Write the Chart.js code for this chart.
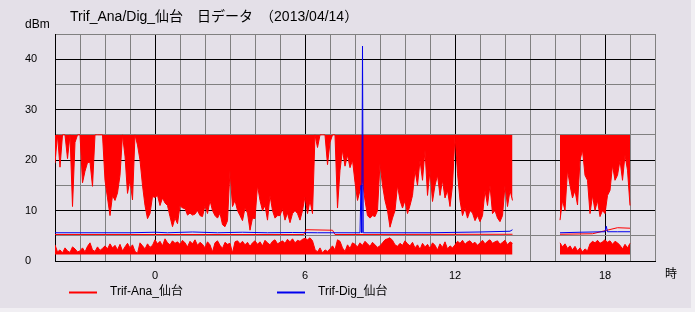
<!DOCTYPE html>
<html><head><meta charset="utf-8">
<script src="https://cdn.jsdelivr.net/npm/chart.js@4"></script>
<style>html,body{margin:0;padding:0;background:#e4e0e8;overflow:hidden}canvas{display:block}</style>
</head><body>
<canvas id="c" width="695" height="312"></canvas>
<script>
// ---- text ----
const chartTitle = 'Trif_Ana/Dig_仙台　日データ　（2013/04/14）';
const yUnit = 'dBm';
const xUnit = '時';
const seriesNames = ['Trif-Ana_仙台', 'Trif-Dig_仙台'];
const xTickLabels = [0, 6, 12, 18];
const yTickLabels = [0, 10, 20, 30, 40];

// ---- Trif-Ana samples (hours, every 0.1 h) ----
const anaStep = 0.1;
const anaStart1 = -4.0;   // first block -4.0 .. 14.3
const anaStart2 = 16.2;   // second block 16.2 .. 19.0
const anaCeiling = 25;    // saturation level of the upper band
const anaFloor = 1.3;     // base of the lower band
// upper band: lowest value reached in each sample
const anaHigh1 = [
  19.4, 25, 18.6, 25, 25, 20.3, 25, 10.8, 23.5, 25,
  25, 15.5, 17.8, 19.5, 19.6, 14.8, 25, 25, 25, 25,
  16, 12.5, 9, 13, 12, 13.5, 17, 25, 20.8, 13.4,
  16.1, 12.1, 25, 23, 20, 15, 11, 8.4, 9.4, 12.8,
  12.6, 13, 11, 12.5, 11.5, 11, 8.8, 6.8, 8.5, 7.4,
  11, 10.5, 10.4, 9.1, 9.5, 9.1, 9.3, 10, 9, 8.8,
  11, 9.4, 12, 10, 9, 8.5, 9.5, 7.2, 6.8, 8,
  18, 10.8, 12, 10, 9, 8, 10.5, 9.5, 6.1, 8.5,
  8.4, 15, 12, 10, 11, 8.1, 13, 10, 8.5, 9,
  9, 10.4, 8.1, 9.5, 7.6, 9.4, 10, 9.4, 8.1, 10,
  12.8, 9.4, 12, 9.4, 25, 22.5, 25, 25, 25, 19.1,
  23.5, 25, 25, 10.5, 18, 22, 18.8, 21, 18.5, 20,
  15.6, 12, 14, 16, 12, 9, 8.5, 9, 8.8, 10,
  19.4, 15, 12, 10, 6.7, 8.5, 10, 15, 12, 10.5,
  12, 9.4, 11, 13, 18, 15, 20, 16, 22, 13,
  18, 11.8, 15, 17, 13, 16, 12.5, 14, 10.8, 15,
  25, 17.4, 12, 9, 10.5, 8.5, 10, 9.5, 8, 9,
  7.8, 9, 14, 11, 15, 9.4, 10, 8.5, 7.8, 9,
  15, 10.8, 14, 12
];
const anaHigh2 = [
  8.1, 12, 10, 18, 15, 12.5, 14, 11.1, 20, 22,
  17, 16, 9.4, 13, 10, 12, 8.8, 10, 9.4, 13,
  14, 19, 16, 17, 20, 16, 21, 18, 11
];
// lower band: highest value reached in each sample
const anaLow1 = [
  3.2, 1.8, 2.2, 1.6, 2.6, 2.0, 1.7, 2.8, 2.4, 1.8,
  2.0, 2.6, 1.8, 2.9, 3.6, 2.2, 1.9, 2.8, 2.1, 2.5,
  3.0, 2.4, 3.4, 2.6, 3.1, 2.2, 3.3, 2.0, 2.8, 3.5,
  2.6, 3.2, 1.9, 1.5, 3.6, 3.0, 2.4, 3.4, 2.7, 3.1,
  4.2, 3.4, 3.9, 3.0, 4.4, 3.6, 3.2, 4.0, 3.5, 3.8,
  3.3, 4.1, 3.6, 2.8, 3.9, 3.4, 4.2, 3.1, 3.7, 3.3,
  2.6, 3.8, 3.2, 1.8, 3.6, 4.0, 3.1, 2.5, 3.7, 3.3,
  3.5, 1.6, 3.8, 4.0, 3.4, 3.9, 3.2, 3.7, 2.9, 3.6,
  4.0, 3.3, 3.8, 3.0, 4.1, 3.6, 3.2, 3.9, 4.2, 3.4,
  3.7, 4.0, 3.5, 4.3, 3.8, 4.4, 3.6, 4.1, 3.9, 4.3,
  4.5, 4.2, 4.6, 4.0, 2.3, 1.8, 2.6, 1.6, 2.2, 1.9,
  2.4, 3.0, 2.2, 4.2, 3.9, 2.6, 1.9, 3.2, 2.5, 3.6,
  3.3, 2.8, 3.6, 3.1, 3.9, 3.4, 2.9, 3.7, 3.2, 2.7,
  3.0, 3.6, 4.2, 4.4, 4.6, 4.1, 3.2, 2.9, 3.5, 3.1,
  4.0, 3.4, 3.0, 3.7, 2.6, 3.2, 2.3, 3.5, 2.8, 3.3,
  2.5, 3.6, 3.1, 2.2, 3.4, 2.7, 3.8, 2.4, 3.0, 2.6,
  3.2, 3.9, 3.5, 4.1, 3.3, 3.8, 4.0, 3.4, 3.7, 3.1,
  3.6, 4.1, 3.4, 3.9, 4.2, 3.5, 3.8, 4.0, 3.3, 3.7,
  4.1, 3.2, 3.8, 3.5
];
const anaLow2 = [
  3.6, 2.8, 3.4, 2.5, 3.0, 2.2, 2.9, 2.0, 2.6, 1.8,
  2.4, 2.0, 3.4, 3.9, 3.6, 4.1, 3.5, 3.8, 4.2, 3.7,
  4.0, 3.3, 3.9, 3.6, 3.1, 2.4, 3.3, 2.6, 3.5
];
// thin Ana trace near 5 dBm
const anaMidHours1 = [-4.0, 5.95, 6.05, 7.1, 7.2, 14.3];
const anaMidValues1 = [5.25, 5.25, 6.2, 6.1, 5.25, 5.3];
const anaMidHours2 = [16.2, 17.5, 18.0, 18.5, 19.0];
const anaMidValues2 = [5.3, 5.4, 6.0, 6.6, 6.5];

// ---- Trif-Dig ----
const digHours1 = [-4.0, -1.0, 0.0, 0.5, 1.5, 2.5, 3.5, 4.5, 5.5, 6.5, 8.2, 8.24, 8.27, 8.3, 8.33, 9.0, 11.0, 13.0, 14.2, 14.3];
const digValues1 = [5.6, 5.6, 5.7, 5.6, 5.75, 5.6, 5.7, 5.6, 5.65, 5.6, 5.6, 15, 5.6, 42.6, 5.6, 5.6, 5.6, 5.75, 5.9, 6.2];
const digHours2 = [16.2, 17.0, 18.0, 18.05, 18.1, 18.5, 19.0];
const digValues2 = [5.6, 5.7, 5.8, 6.9, 5.8, 5.8, 5.8];

// ---- build point tables ----
const gapHour = 15.2;
function samples(start, vals) {
  return vals.map((v, i) => ({x: Math.round((start + i * anaStep) * 10) / 10, y: v}));
}
function pairs(hs, vs) { return hs.map((h, i) => ({x: h, y: vs[i]})); }
const gap = [{x: gapHour, y: null}];
const anaHighPts = samples(anaStart1, anaHigh1).concat(gap, samples(anaStart2, anaHigh2));
const anaLowPts = samples(anaStart1, anaLow1).concat(gap, samples(anaStart2, anaLow2));
const anaMidPts = pairs(anaMidHours1, anaMidValues1).concat(gap, pairs(anaMidHours2, anaMidValues2));
const digPts = pairs(digHours1, digValues1).concat(gap, pairs(digHours2, digValues2));

const anaColor = '#ff0000';
const digColor = '#0000ee';
const FONT = '"Liberation Sans", "Noto Sans CJK JP", sans-serif';

const decor = {
  id: 'decor',
  beforeDraw(chart) {
    const c = chart.ctx;
    c.save();
    c.fillStyle = '#e4e0e8';
    c.fillRect(0, 0, chart.width, chart.height);
    c.fillStyle = '#f1eff3';
    c.fillRect(691, 0, 4, chart.height);
    c.fillRect(0, 308, chart.width, 4);
    c.restore();
  },
  afterDraw(chart) {
    const c = chart.ctx, a = chart.chartArea;
    c.save();
    c.fillStyle = '#000';
    c.textAlign = 'left';
    c.textBaseline = 'alphabetic';
    c.font = '14px ' + FONT;
    c.fillText(chartTitle, 70, 21);
    c.font = '12px ' + FONT;
    c.fillText(yUnit, 25, 28);
    c.textBaseline = 'middle';
    c.fillText(xUnit, a.right + 10, a.bottom + 14);
    // legend
    const items = [[69, anaColor, seriesNames[0]], [277, digColor, seriesNames[1]]];
    items.forEach(([x, col, txt]) => {
      c.strokeStyle = col; c.lineWidth = 2;
      c.beginPath(); c.moveTo(x, 292.5); c.lineTo(x + 28, 292.5); c.stroke();
      c.fillStyle = '#000';
      c.fillText(txt, x + 41, 292);
    });
    c.restore();
  }
};

Chart.defaults.font.family = FONT;
Chart.defaults.font.size = 11;
Chart.defaults.color = '#000';

new Chart(document.getElementById('c'), {
  type: 'line',
  data: {
    datasets: [
      {label: seriesNames[1], data: digPts, borderColor: digColor, borderWidth: 1, pointRadius: 0, fill: false, order: 0, spanGaps: false},
      {label: seriesNames[0], data: anaMidPts, borderColor: anaColor, borderWidth: 1, pointRadius: 0, fill: false, order: 1, spanGaps: false},
      {label: seriesNames[0], data: anaHighPts, borderColor: anaColor, backgroundColor: anaColor, borderWidth: 1, pointRadius: 0, fill: {value: anaCeiling}, order: 2, spanGaps: false},
      {label: seriesNames[0], data: anaLowPts, borderColor: anaColor, backgroundColor: anaColor, borderWidth: 1, pointRadius: 0, fill: {value: anaFloor}, order: 3, spanGaps: false}
    ]
  },
  options: {
    responsive: false,
    animation: false,
    devicePixelRatio: 1,
    parsing: true,
    layout: {padding: {top: 34, left: 25, right: 40, bottom: 0}},
    plugins: {legend: {display: false}, title: {display: false}, tooltip: {enabled: false}},
    elements: {line: {tension: 0}},
    scales: {
      x: {
        type: 'linear', min: -4, max: 20,
        ticks: {stepSize: 1, autoSkip: false, maxRotation: 0, padding: 8,
          callback: v => xTickLabels.includes(v) ? String(v) : ''},
        grid: {drawTicks: false, lineWidth: 1,
          color: ctx => (ctx.tick && ctx.tick.value % 6 === 0) ? '#000000' : '#808080'},
        border: {color: '#000000', width: 1},
        afterFit: s => { s.height = 51; }
      },
      y: {
        type: 'linear', min: 0, max: 45,
        ticks: {stepSize: 5, autoSkip: false, crossAlign: 'far', padding: 0,
          callback: v => yTickLabels.includes(v) ? String(v) : ''},
        grid: {drawTicks: false, lineWidth: 1,
          color: ctx => (ctx.tick && ctx.tick.value % 10 === 0) ? '#000000' : '#808080'},
        border: {color: '#000000', width: 1},
        afterFit: s => { s.width = 30; }
      }
    }
  },
  plugins: [decor]
});
</script>
</body></html>
